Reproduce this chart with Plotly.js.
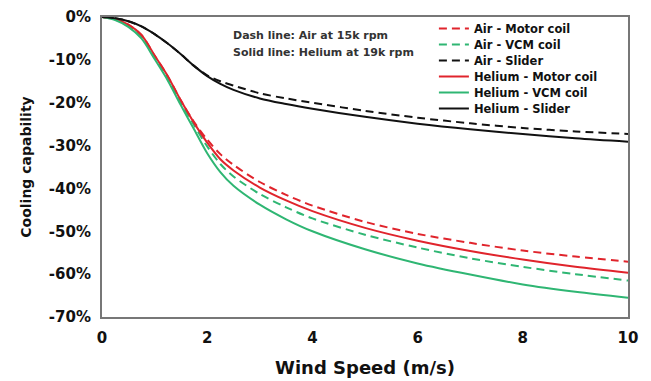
<!DOCTYPE html>
<html>
<head>
<meta charset="utf-8">
<script src="https://cdn.plot.ly/plotly-3.0.1.min.js"></script>
<style>html,body{margin:0;padding:0;background:#fff;}#chart{width:651px;height:381px;}</style>
</head>
<body>
<div id="chart"></div>
<script>
// Wind speed (m/s)
const windSpeed = [0, 0.25, 0.5, 0.75, 1.0, 1.25, 1.5, 1.75, 2.0, 2.25, 2.5, 3, 3.5, 4, 5, 6, 7, 8, 9, 10];
// Cooling capability (%)
const airMotor    = [0, -0.5, -1.8, -4.2, -9.0, -13.8, -19.5, -24.5, -28.6, -32.0, -34.5, -38.5, -41.5, -44.0, -47.8, -50.6, -52.7, -54.5, -55.9, -57.1];
const airVCM      = [0, -0.6, -2.0, -4.5, -9.3, -14.2, -20.0, -25.2, -30.2, -34.3, -37.2, -41.3, -44.4, -47.0, -50.8, -53.8, -56.3, -58.3, -60.0, -61.5];
const airSlider   = [0, -0.3, -1.0, -2.2, -4.0, -6.2, -8.7, -11.4, -13.6, -15.0, -16.0, -17.8, -19.0, -20.0, -21.9, -23.5, -24.8, -25.9, -26.7, -27.3];
const heMotor     = [0, -0.5, -1.8, -4.2, -9.0, -13.8, -19.5, -24.7, -29.3, -33.2, -35.8, -39.8, -42.8, -45.3, -49.2, -52.2, -54.6, -56.6, -58.3, -59.7];
const heVCM       = [0, -0.7, -2.3, -5.0, -9.8, -14.8, -20.6, -26.2, -31.8, -36.2, -39.4, -43.8, -47.2, -50.0, -54.2, -57.5, -60.1, -62.4, -64.1, -65.5];
const heSlider    = [0, -0.3, -1.0, -2.2, -4.0, -6.2, -8.7, -11.4, -13.8, -15.6, -17.0, -19.0, -20.3, -21.4, -23.3, -24.9, -26.2, -27.3, -28.3, -29.1];
const seriesNames = ["Air - Motor coil", "Air - VCM coil", "Air - Slider", "Helium - Motor coil", "Helium - VCM coil", "Helium - Slider"];
const xTicks = [0, 2, 4, 6, 8, 10];
const yTicks = [0, -10, -20, -30, -40, -50, -60, -70];

const RED = '#e0242c', GREEN = '#2fb673', BLACK = '#111111';
const DASH = '8px,5px';
const FONT = 'DejaVu Sans, sans-serif';

function tr(y, name, color, dash) {
  return {
    x: windSpeed, y: y, name: name, type: 'scatter', mode: 'lines',
    line: {color: color, width: 2, dash: dash, shape: 'spline', smoothing: 0.9},
    hoverinfo: 'skip'
  };
}

const data = [
  tr(airMotor, seriesNames[0], RED, DASH),
  tr(airVCM, seriesNames[1], GREEN, DASH),
  tr(airSlider, seriesNames[2], BLACK, DASH),
  tr(heMotor, seriesNames[3], RED, 'solid'),
  tr(heVCM, seriesNames[4], GREEN, 'solid'),
  tr(heSlider, seriesNames[5], BLACK, 'solid')
];

const layout = {
  width: 651, height: 381,
  margin: {l: 102, r: 23, t: 17, b: 64},
  paper_bgcolor: '#fff', plot_bgcolor: '#fff',
  font: {family: FONT, color: '#111'},
  showlegend: true,
  legend: {
    x: 0.631, y: 1.01, xanchor: 'left', yanchor: 'top',
    bgcolor: 'rgba(0,0,0,0)', borderwidth: 0,
    font: {family: FONT, size: 11.5, weight: 'bold', color: '#111'},
    itemwidth: 30, tracegroupgap: 0
  },
  xaxis: {
    range: [0, 10], tickvals: xTicks, ticktext: xTicks.map(String),
    showgrid: false, zeroline: false, ticks: '',
    showline: true, linecolor: '#777', linewidth: 2, mirror: true,
    tickfont: {family: FONT, size: 15, weight: 'bold', color: '#111'},
    ticklabelstandoff: 6,
    title: {text: 'Wind Speed (m/s)', font: {family: FONT, size: 18, weight: 'bold', color: '#111'}, standoff: 15}
  },
  yaxis: {
    range: [-70, 0], tickvals: yTicks, ticktext: yTicks.map(v => v + '%'),
    showgrid: false, zeroline: false, ticks: '',
    showline: true, linecolor: '#777', linewidth: 2, mirror: true,
    tickfont: {family: FONT, size: 15, weight: 'bold', color: '#111'},
    ticklabelstandoff: 6,
    title: {text: 'Cooling capability', font: {family: FONT, size: 14, weight: 'bold', color: '#111'}, standoff: 14}
  },
  annotations: [
    {xref: 'paper', yref: 'paper', x: 0.245, y: 0.94, xanchor: 'left', yanchor: 'middle', showarrow: false,
     text: 'Dash line: Air at 15k rpm', font: {family: FONT, size: 11, weight: 'bold', color: '#333'}},
    {xref: 'paper', yref: 'paper', x: 0.245, y: 0.883, xanchor: 'left', yanchor: 'middle', showarrow: false,
     text: 'Solid line: Helium at 19k rpm', font: {family: FONT, size: 11, weight: 'bold', color: '#333'}}
  ]
};

Plotly.newPlot('chart', data, layout, {staticPlot: true, displayModeBar: false}).then(function (gd) {
  // tighten legend row spacing to match the reference (16px rows)
  const items = gd.querySelectorAll('.legend .traces');
  let y0 = null;
  items.forEach(function (el, i) {
    const t = el.getAttribute('transform') || '';
    const m = t.match(/translate\(\s*([-\d.]+)[ ,]+([-\d.]+)\s*\)/);
    if (!m) return;
    const x = parseFloat(m[1]);
    const y = parseFloat(m[2]);
    if (y0 === null) y0 = y;
    el.setAttribute('transform', 'translate(' + x + ',' + (y0 + i * 16) + ')');
  });
});
</script>
</body>
</html>
